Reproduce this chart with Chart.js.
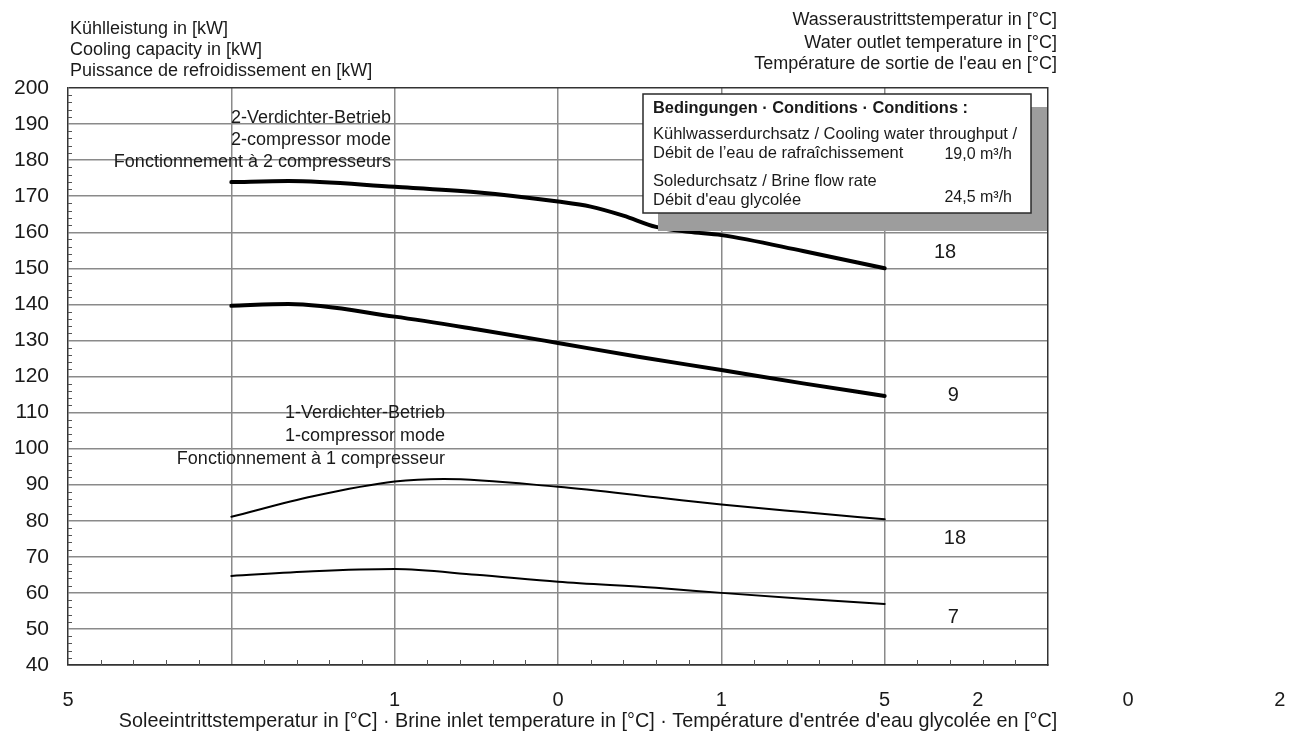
<!DOCTYPE html>
<html>
<head>
<meta charset="utf-8">
<script src="https://cdn.jsdelivr.net/npm/chart.js@4.4.1/dist/chart.umd.min.js"></script>
<style>
  html, body { margin: 0; padding: 0; background: #ffffff; }
  #c { display: block; }
</style>
</head>
<body>
<canvas id="c" width="1293" height="745"></canvas>
<script>
// ---- Data ----
// x is expressed in grid-column units (0 .. 6) of the original diagram
const xTwoComp18 = [1, 1.35, 2, 2.5, 3, 3.2, 3.4, 3.6, 3.8, 4, 4.5, 5];
const capTwoComp18 = [173.9, 174.2, 172.6, 171.1, 168.5, 167.1, 164.6, 161.5, 160.1, 159.2, 154.8, 150.0];

const xTwoComp9 = [1, 1.35, 2, 2.5, 3, 3.5, 4, 4.5, 5];
const capTwoComp9 = [139.6, 140.1, 136.6, 133.1, 129.3, 125.4, 121.8, 118.1, 114.6];

const xOneComp18 = [1, 1.5, 2, 2.3, 3, 3.6, 4, 4.5, 5];
const capOneComp18 = [81.1, 86.8, 90.9, 91.6, 89.4, 86.5, 84.5, 82.4, 80.4];

const xOneComp7 = [1, 1.5, 2, 2.5, 3, 3.6, 4, 4.5, 5];
const capOneComp7 = [64.7, 66.0, 66.6, 65.0, 63.1, 61.4, 60.0, 58.4, 56.9];

const curveLabels = ['18', '9', '18', '7'];

// x tick labels as they appear in the reference (positions in grid units)
const xTickValues = [0, 2, 3, 4, 5, 5.57, 6.49, 7.42];
const xTickLabels = ['5', '1', '0', '1', '5', '2', '0', '2'];

const yMin = 40, yMax = 200, yStep = 10;

const FONT = "'Liberation Sans', Arial, Helvetica, sans-serif";
const TEXT = '#1a1a1a';
const GRID = '#8a8a8a';

function pts(xs, ys) { return xs.map((x, i) => ({ x: x, y: ys[i] })); }

const decor = {
  id: 'decor',
  beforeDatasetsDraw(chart) {
    const ctx = chart.ctx, a = chart.chartArea;
    const xs = chart.scales.x, ys = chart.scales.y;
    ctx.save();
    ctx.strokeStyle = '#555';
    ctx.lineWidth = 1;
    for (let v = 0; v < 6; v += 0.2) {
      const r = Math.round(v * 5);
      if (r % 5 === 0) continue;
      const px = Math.round(xs.getPixelForValue(v)) + 0.5;
      ctx.beginPath(); ctx.moveTo(px, a.bottom); ctx.lineTo(px, a.bottom - 5); ctx.stroke();
    }
    for (let v = yMin; v < yMax; v += 2) {
      if (v % 10 === 0) continue;
      const py = Math.round(ys.getPixelForValue(v)) + 0.5;
      ctx.beginPath(); ctx.moveTo(a.left, py); ctx.lineTo(a.left + 4, py); ctx.stroke();
    }
    ctx.restore();
  },
  afterDatasetsDraw(chart) {
    const ctx = chart.ctx;
    const xs = chart.scales.x, ys = chart.scales.y;
    ctx.save();
    // conditions box with shadow
    ctx.fillStyle = '#9d9d9d';
    ctx.fillRect(658, 107, 389, 124);
    ctx.fillStyle = '#ffffff';
    ctx.fillRect(643, 94, 388, 119);
    ctx.strokeStyle = '#2a2a2a';
    ctx.lineWidth = 1.5;
    ctx.strokeRect(643, 94, 388, 119);

    ctx.fillStyle = TEXT;
    ctx.textBaseline = 'middle';
    ctx.textAlign = 'left';
    ctx.font = 'bold 16.4px ' + FONT;
    ctx.fillText('Bedingungen · Conditions · Conditions :', 653, 108);
    ctx.font = '16.5px ' + FONT;
    ctx.fillText('Kühlwasserdurchsatz / Cooling water throughput /', 653, 134);
    ctx.fillText('Débit de l\u2019eau de rafraîchissement', 653, 153);
    ctx.fillText('Soledurchsatz / Brine flow rate', 653, 181);
    ctx.fillText('Débit d\'eau glycolée', 653, 200);
    ctx.textAlign = 'right';
    ctx.font = '16px ' + FONT;
    ctx.fillText('19,0 m³/h', 1012, 155);
    ctx.fillText('24,5 m³/h', 1012, 198);

    // curve labels (water outlet temperatures)
    ctx.textAlign = 'center';
    ctx.font = '20px ' + FONT;
    const labelPos = [[5.37, 154.4], [5.42, 114.6], [5.43, 75.0], [5.42, 53.1]];
    labelPos.forEach((p, i) => {
      ctx.fillText(curveLabels[i], xs.getPixelForValue(p[0]), ys.getPixelForValue(p[1]));
    });

    // mode annotations
    ctx.textAlign = 'right';
    ctx.font = '18px ' + FONT;
    ctx.fillText('2-Verdichter-Betrieb', 391, 118);
    ctx.fillText('2-compressor mode', 391, 140);
    ctx.fillText('Fonctionnement à 2 compresseurs', 391, 162);
    ctx.fillText('1-Verdichter-Betrieb', 445, 413);
    ctx.fillText('1-compressor mode', 445, 436);
    ctx.fillText('Fonctionnement à 1 compresseur', 445, 459);

    // axis titles
    ctx.textAlign = 'left';
    ctx.fillText('Kühlleistung in [kW]', 70, 29);
    ctx.fillText('Cooling capacity in [kW]', 70, 50);
    ctx.fillText('Puissance de refroidissement en [kW]', 70, 71);
    ctx.textAlign = 'right';
    ctx.fillText('Wasseraustrittstemperatur in [°C]', 1057, 20);
    ctx.fillText('Water outlet temperature in [°C]', 1057, 43);
    ctx.fillText('Température de sortie de l\'eau en [°C]', 1057, 64);
    ctx.textAlign = 'center';
    ctx.font = '19.8px ' + FONT;
    ctx.fillText('Soleeintrittstemperatur in [°C] · Brine inlet temperature in [°C] · Température d\'entrée d\'eau glycolée en [°C]', 588, 722);
    ctx.restore();
  }
};

function ds(xs, ys, w) {
  return {
    data: pts(xs, ys),
    borderColor: '#000',
    borderWidth: w,
    pointRadius: 0,
    fill: false,
    cubicInterpolationMode: 'monotone',
    borderCapStyle: 'round',
    borderJoinStyle: 'round'
  };
}

new Chart(document.getElementById('c'), {
  type: 'line',
  data: {
    datasets: [
      ds(xTwoComp18, capTwoComp18, 4),
      ds(xTwoComp9, capTwoComp9, 4),
      ds(xOneComp18, capOneComp18, 2),
      ds(xOneComp7, capOneComp7, 2)
    ]
  },
  options: {
    responsive: false,
    animation: false,
    devicePixelRatio: 1,
    layout: { padding: { top: 88, right: 245, left: 0, bottom: 0 } },
    plugins: { legend: { display: false }, tooltip: { enabled: false } },
    scales: {
      x: {
        type: 'linear',
        min: 0, max: 6,
        afterBuildTicks(axis) {
          const vals = [0, 1, 2, 3, 4, 5, 6].concat(xTickValues);
          const uniq = Array.from(new Set(vals)).sort((a, b) => a - b);
          axis.ticks = uniq.map(v => ({ value: v }));
        },
        afterFit(axis) { axis.height = 80; },
        ticks: {
          autoSkip: false,
          maxRotation: 0,
          minRotation: 0,
          padding: 23,
          color: TEXT,
          font: { family: FONT, size: 20 },
          callback(value) {
            const i = xTickValues.indexOf(value);
            return i >= 0 ? xTickLabels[i] : '';
          }
        },
        grid: {
          drawTicks: false,
          lineWidth: 1.5,
          color(ctx) {
            const v = ctx.tick ? ctx.tick.value : 0;
            return (Number.isInteger(v) && v > 0 && v < 6) ? GRID : 'rgba(0,0,0,0)';
          }
        },
        border: { display: true, color: '#333', width: 1.5 }
      },
      y: {
        type: 'linear',
        min: yMin, max: yMax,
        afterFit(axis) { axis.width = 68; },
        ticks: {
          stepSize: yStep,
          padding: 19,
          color: TEXT,
          font: { family: FONT, size: 21 }
        },
        grid: {
          drawTicks: false,
          lineWidth: 1.5,
          color(ctx) {
            const v = ctx.tick ? ctx.tick.value : 0;
            return (v > yMin && v < yMax) ? GRID : '#333';
          }
        },
        border: { display: true, color: '#333', width: 1.5 }
      },
      frame: {
        type: 'linear', position: 'right', display: true,
        min: yMin, max: yMax,
        afterFit(axis) { axis.width = 0; },
        ticks: { display: false },
        grid: { display: false, drawTicks: false },
        border: { display: true, color: '#333', width: 1.5 }
      }
    }
  },
  plugins: [decor]
});
</script>
</body>
</html>
